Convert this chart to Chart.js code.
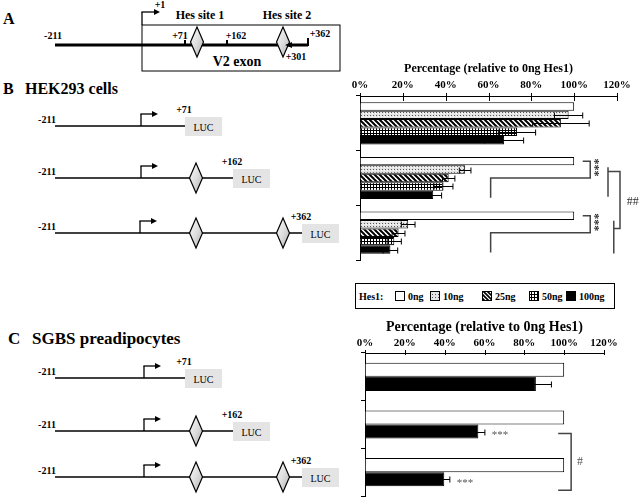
<!DOCTYPE html>
<html>
<head>
<meta charset="utf-8">
<title>Hes1 reporter assays</title>
<script src="https://cdn.jsdelivr.net/npm/chart.js@4.4.1/dist/chart.umd.min.js"></script>
<style>
  html, body { margin: 0; padding: 0; background: #fff; }
  body { position: relative; width: 640px; height: 497px; overflow: hidden; }
  #diagram { position: absolute; left: 0; top: 0; }
  #diagram text { font-family: "Liberation Serif", "Times New Roman", serif; }
  .chart-box { position: absolute; left: 340px; width: 300px; }
</style>
</head>
<body>
<svg id="diagram" width="640" height="497"></svg>
<div class="chart-box" style="top:55px;height:210px"><canvas id="hek-chart"></canvas></div>
<div class="chart-box" style="top:315px;height:182px"><canvas id="sgbs-chart"></canvas></div>
<script>
const constructs = ['-211/+71', '-211/+162', '-211/+362'];
const doses = ['0ng', '10ng', '25ng', '50ng', '100ng'];
const tickValues = [0, 20, 40, 60, 80, 100, 120];

// HEK293 cells, percentage relative to 0ng Hes1
const hek0ng = [100, 100, 100];
const hek10ng = [97.4, 49.1, 22.5];
const hek25ng = [93.8, 41.4, 18.0];
const hek50ng = [73.3, 39.0, 16.0];
const hek100ng = [67.3, 34.2, 14.2];
const hek10ngErr = [6.6, 2.7, 3.2];
const hek25ngErr = [13.2, 2.9, 3.0];
const hek50ngErr = [8.7, 4.4, 3.3];
const hek100ngErr = [9.1, 3.9, 3.4];

// SGBS preadipocytes
const sgbs0ng = [100, 100, 100];
const sgbs100ng = [85.8, 56.9, 39.8];
const sgbs100ngErr = [7.8, 3.3, 2.8];

const SERIF = '"Liberation Serif", "Times New Roman", serif';

// ---------- fill patterns for the dose series ----------
function makePattern(kind) {
    const c = document.createElement('canvas');
    const g = c.getContext('2d');
    if (kind === 'dots') {
        c.width = 3; c.height = 3;
        g.fillStyle = '#e4e4e4'; g.fillRect(0, 0, 3, 3);
        g.fillStyle = '#555'; g.fillRect(0, 0, 1, 1);
        g.fillStyle = '#fff'; g.fillRect(2, 1, 1, 1);
    } else if (kind === 'hatch') {
        c.width = 5; c.height = 5;
        g.fillStyle = '#fff'; g.fillRect(0, 0, 5, 5);
        g.strokeStyle = '#000'; g.lineWidth = 2;
        [-5, 0, 5].forEach(k => {
            g.beginPath(); g.moveTo(k - 1, -1); g.lineTo(k + 6, 6); g.stroke();
        });
    } else if (kind === 'grid') {
        c.width = 3; c.height = 3;
        g.fillStyle = '#fff'; g.fillRect(0, 0, 3, 3);
        g.fillStyle = '#000'; g.fillRect(0, 0, 1, 3); g.fillRect(0, 0, 3, 1);
    }
    return g.createPattern(c, 'repeat');
}
const doseFills = ['#fff', makePattern('dots'), makePattern('hatch'), makePattern('grid'), '#000'];

// ---------- schematic (svg) ----------
const parts = [];
function line(x1, y1, x2, y2, w = 1.3, col = '#000') {
    parts.push(`<line x1="${x1}" y1="${y1}" x2="${x2}" y2="${y2}" stroke="${col}" stroke-width="${w}"/>`);
}
function text(t, x, y, size, opt = {}) {
    parts.push(`<text x="${x}" y="${y}" font-size="${size}" font-weight="${opt.weight || 'bold'}" text-anchor="${opt.anchor || 'middle'}" dominant-baseline="central" fill="#000">${t}</text>`);
}
function diamond(cx, cy) {
    parts.push(`<polygon points="${cx},${cy - 15} ${cx + 6.5},${cy} ${cx},${cy + 15} ${cx - 6.5},${cy}" fill="url(#dg)" stroke="#000" stroke-width="1.2"/>`);
}
function arrow(x, y, h) {
    line(x, y, x, y - h);
    line(x - 0.6, y - h, x + 13, y - h);
    parts.push(`<polygon points="${x + 17},${y - h} ${x + 11},${y - h - 3} ${x + 11},${y - h + 3}" fill="#000"/>`);
}
function luc(x, y) {
    parts.push(`<rect x="${x}" y="${y - 9}" width="37" height="19" fill="#e4e4e4"/>`);
    text('LUC', x + 18.5, y + 1, 10, { weight: 'normal' });
}
function construct(y, type, arrowX) {
    const ends = [185, 233, 302];
    const endLabels = ['+71', '+162', '+362'];
    line(55, y, ends[type], y);
    arrow(arrowX, y, 12);
    if (type >= 1) diamond(196, y);
    if (type === 2) diamond(283, y);
    luc(ends[type], y);
    text('-211', 47, y - 7, 10);
    text(endLabels[type], ends[type] - 1, y - 17, 10);
}

parts.push(`<defs>
  <linearGradient id="dg" x1="0" y1="0" x2="1" y2="1">
    <stop offset="0" stop-color="#fafafa"/><stop offset="0.5" stop-color="#dedede"/><stop offset="1" stop-color="#b0b0b0"/>
  </linearGradient>
  <pattern id="pDots" width="3" height="3" patternUnits="userSpaceOnUse">
    <rect width="3" height="3" fill="#e4e4e4"/><rect width="1" height="1" fill="#555"/>
  </pattern>
  <pattern id="pHatch" width="4" height="4" patternUnits="userSpaceOnUse">
    <rect width="4" height="4" fill="#fff"/>
    <path d="M-1,-1 L5,5 M-5,-1 L1,5 M3,-1 L9,5" stroke="#000" stroke-width="1.6"/>
  </pattern>
  <pattern id="pGrid" width="3" height="3" patternUnits="userSpaceOnUse">
    <rect width="3" height="3" fill="#fff"/><path d="M0.5,0 V3 M0,0.5 H3" stroke="#000" stroke-width="1"/>
  </pattern>
</defs>`);

// panel A
text('A', 3, 18, 16, { anchor: 'start' });
parts.push('<rect x="142" y="25" width="198" height="46" fill="none" stroke="#000" stroke-width="1"/>');
line(55, 45, 308, 45, 3);
line(142, 25, 142, 12);
line(141.4, 12, 156, 12);
parts.push('<polygon points="160,12 154,9 154,15" fill="#000"/>');
line(185, 40, 185, 45, 2);
line(227, 40, 227, 45, 2);
line(308, 38, 308, 46, 2);
diamond(197, 42);
diamond(283, 42);
parts.push('<polygon points="285,45 292,42 292,48" fill="#000"/>');
text('+1', 160, 4, 10);
text('-211', 53, 35, 10);
text('+71', 180, 35, 10);
text('+162', 236, 35, 10);
text('+362', 320, 33, 10);
text('+301', 296, 56, 10);
text('Hes site 1', 200, 15, 12);
text('Hes site 2', 287, 15, 12);
text('V2 exon', 237, 61, 14);

// panel B
text('B', 3, 88, 16, { anchor: 'start' });
text('HEK293 cells', 25, 88, 16, { anchor: 'start' });
construct(126, 0, 141);
construct(178, 1, 141);
construct(233, 2, 140);

// panel C
text('C', 8, 338, 17, { anchor: 'start' });
text('SGBS preadipocytes', 32, 338, 17, { anchor: 'start' });
construct(378, 0, 144);
construct(431, 1, 144);
construct(477, 2, 144);

// legend
parts.push('<rect x="355.5" y="283.5" width="259" height="25" fill="none" stroke="#000" stroke-width="1"/>');
text('Hes1:', 359, 296, 10, { anchor: 'start' });
const legendFills = ['#fff', 'url(#pDots)', 'url(#pHatch)', 'url(#pGrid)', '#000'];
const swatchX = [395, 430, 482, 529, 566];
doses.forEach((d, i) => {
    parts.push(`<rect x="${swatchX[i] + 0.5}" y="291.5" width="9" height="9" fill="${legendFills[i]}" stroke="#000" stroke-width="1"/>`);
    text(d, swatchX[i] + 13, 296, 10, { anchor: 'start' });
});

document.getElementById('diagram').innerHTML = parts.join('');

// ---------- chart plugins ----------
const errorBarPlugin = {
    id: 'errorBars',
    afterDatasetsDraw(chart) {
        const { ctx, scales: { x } } = chart;
        ctx.save();
        ctx.strokeStyle = '#000';
        ctx.lineWidth = 1;
        chart.data.datasets.forEach((ds, i) => {
            if (!ds.errors) return;
            chart.getDatasetMeta(i).data.forEach((bar, j) => {
                const v = ds.data[j], e = ds.errors[j];
                const x0 = x.getPixelForValue(v - e), x1 = x.getPixelForValue(v + e);
                const y = Math.round(bar.y) + 0.5, h = 3;
                ctx.beginPath();
                ctx.moveTo(x0, y); ctx.lineTo(x1, y);
                ctx.moveTo(x0, y - h); ctx.lineTo(x0, y + h);
                ctx.moveTo(x1, y - h); ctx.lineTo(x1, y + h);
                ctx.stroke();
            });
        });
        ctx.restore();
    }
};

const axisTicksPlugin = {
    id: 'axisTicks',
    afterDraw(chart, args, opts) {
        const { ctx, scales: { x }, chartArea } = chart;
        ctx.save();
        ctx.strokeStyle = '#000';
        ctx.lineWidth = 1;
        x.ticks.forEach(t => {
            const px = Math.round(x.getPixelForValue(t.value)) + 0.5;
            ctx.beginPath();
            ctx.moveTo(px, chartArea.top - opts.up);
            ctx.lineTo(px, chartArea.top + opts.down);
            ctx.stroke();
        });
        ctx.restore();
    }
};

function drawPath(ctx, pts) {
    ctx.beginPath();
    pts.forEach(([x, y], k) => k ? ctx.lineTo(x, y) : ctx.moveTo(x, y));
    ctx.stroke();
}

const hekMarks = {
    id: 'hekMarks',
    afterDraw(chart) {
        const ctx = chart.ctx;
        const px = v => chart.scales.x.getPixelForValue(v);
        const bar = (d, g) => chart.getDatasetMeta(d).data[g].y;
        ctx.save();
        ctx.strokeStyle = '#444';
        ctx.fillStyle = '#333';
        ctx.lineWidth = 1.5;
        ctx.font = 'bold 12px ' + SERIF;
        ctx.textAlign = 'center';
        ctx.textBaseline = 'middle';
        [1, 2].forEach(g => {
            const top = bar(0, g), mid = bar(2, g), bot = bar(4, g) + 3;
            drawPath(ctx, [[px(104), top], [px(107.5), top], [px(107.5), mid], [px(61), mid], [px(61), bot]]);
            ctx.save();
            ctx.translate(px(109.5), (top + mid) / 2 - 2);
            ctx.rotate(Math.PI / 2);
            ctx.fillText('***', 0, 0);
            ctx.restore();
        });
        const yH1 = bar(1, 1) + 2;
        const yH2 = (bar(1, 2) + bar(2, 2)) / 2;
        drawPath(ctx, [[px(115.8), bar(0, 1) + 6], [px(115.8), bar(4, 1) + 2]]);
        drawPath(ctx, [[px(115.8), yH1], [px(121.4), yH1], [px(121.4), yH2], [px(118.5), yH2]]);
        drawPath(ctx, [[px(118.5), bar(0, 2) + 5], [px(118.5), bar(4, 2) + 4]]);
        ctx.font = '12px ' + SERIF;
        ctx.textAlign = 'left';
        ctx.fillText('##', px(124.5), (bar(2, 1) + bar(2, 2)) / 2 - 3);
        ctx.restore();
    }
};

const sgbsMarks = {
    id: 'sgbsMarks',
    afterDraw(chart) {
        const ctx = chart.ctx;
        const px = v => chart.scales.x.getPixelForValue(v);
        const bar = (d, g) => chart.getDatasetMeta(d).data[g].y;
        ctx.save();
        ctx.strokeStyle = '#444';
        ctx.fillStyle = '#555';
        ctx.lineWidth = 1.5;
        ctx.font = '11px ' + SERIF;
        ctx.textBaseline = 'middle';
        ctx.textAlign = 'left';
        [1, 2].forEach(g => {
            ctx.fillText('***', px(sgbs100ng[g] + sgbs100ngErr[g] + 3.5), bar(1, g) + 4);
        });
        const y1 = bar(1, 1) + 2, y2 = bar(1, 2) + 11;
        drawPath(ctx, [[px(97), y1], [px(103.5), y1], [px(103.5), y2], [px(97), y2]]);
        ctx.font = '12px ' + SERIF;
        ctx.textAlign = 'center';
        ctx.fillText('#', px(108), (y1 + y2) / 2);
        ctx.restore();
    }
};

// ---------- shared options ----------
function barOptions(cfg) {
    return {
        indexAxis: 'y',
        responsive: true,
        maintainAspectRatio: false,
        animation: false,
        layout: { padding: cfg.padding },
        datasets: { bar: { categoryPercentage: cfg.catPct, barPercentage: 1, borderWidth: 1, borderColor: '#000' } },
        plugins: { legend: { display: false }, tooltip: { enabled: false }, axisTicks: cfg.ticks },
        scales: {
            x: {
                position: 'top',
                min: 0,
                max: 120,
                afterBuildTicks: s => { s.ticks = tickValues.map(v => ({ value: v })); },
                ticks: { callback: v => v + '%', color: '#000', padding: cfg.tickPad, font: { family: SERIF, size: 11, weight: 'bold' } },
                grid: { drawOnChartArea: false, drawTicks: false },
                border: { color: '#000', width: 1 },
                title: {
                    display: true,
                    text: 'Percentage (relative to 0ng Hes1)',
                    color: '#000',
                    font: { family: SERIF, size: cfg.titleSize, weight: 'bold' },
                    padding: { top: cfg.titlePad, bottom: 0 }
                },
                afterFit: s => { s.height = cfg.axisHeight; }
            },
            y: {
                ticks: { display: false },
                grid: { drawOnChartArea: false, tickLength: 4, color: '#000' },
                border: { color: '#000', width: 1 },
                afterFit: s => { s.width = 4; }
            }
        }
    };
}

new Chart(document.getElementById('hek-chart'), {
    type: 'bar',
    data: {
        labels: constructs,
        datasets: [
            { label: doses[0], data: hek0ng, backgroundColor: doseFills[0] },
            { label: doses[1], data: hek10ng, errors: hek10ngErr, backgroundColor: doseFills[1] },
            { label: doses[2], data: hek25ng, errors: hek25ngErr, backgroundColor: doseFills[2] },
            { label: doses[3], data: hek50ng, errors: hek50ngErr, backgroundColor: doseFills[3] },
            { label: doses[4], data: hek100ng, errors: hek100ngErr, backgroundColor: doseFills[4] }
        ]
    },
    options: barOptions({
        padding: { left: 16, right: 23, top: 0, bottom: 5 },
        catPct: 0.77, axisHeight: 41, titleSize: 12, titlePad: 7, tickPad: 4,
        ticks: { up: 3, down: 5 }
    }),
    plugins: [errorBarPlugin, axisTicksPlugin, hekMarks]
});

new Chart(document.getElementById('sgbs-chart'), {
    type: 'bar',
    data: {
        labels: constructs,
        datasets: [
            { label: doses[0], data: sgbs0ng, backgroundColor: doseFills[0] },
            { label: doses[4], data: sgbs100ng, errors: sgbs100ngErr, backgroundColor: doseFills[4] }
        ]
    },
    options: barOptions({
        padding: { left: 21, right: 36, top: 0, bottom: 1 },
        catPct: 0.59, axisHeight: 38, titleSize: 14, titlePad: 4, tickPad: 3,
        ticks: { up: 3, down: 2 }
    }),
    plugins: [errorBarPlugin, axisTicksPlugin, sgbsMarks]
});
</script>
</body>
</html>
